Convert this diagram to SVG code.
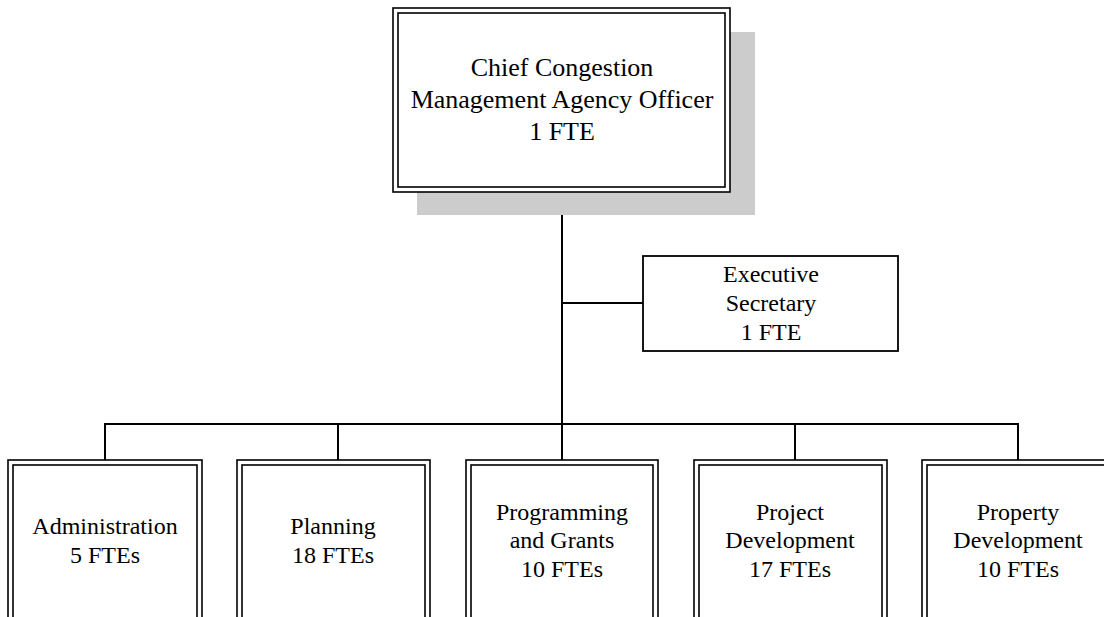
<svg xmlns="http://www.w3.org/2000/svg" width="1104" height="617" viewBox="0 0 1104 617" font-family="'Liberation Serif', Tinos, 'Times New Roman', Times, 'DejaVu Serif', serif">
  <style>
    .bg { fill: #ffffff; }
    .line { stroke: #000000; stroke-width: 2; fill: none; }
    .frame { fill: #ffffff; stroke: #000000; stroke-width: 1.6; }
    .inner { fill: none; stroke: #000000; stroke-width: 1.6; }
    .single { fill: #ffffff; stroke: #000000; stroke-width: 1.8; }
    .shadow { fill: #cccccc; }
    .t { fill: #000000; text-anchor: middle; }
    .big { font-size: 26px; }
    .lbl { font-size: 24px; }
  </style>
  <rect class="bg" x="0" y="0" width="1104" height="617"/>

  <!-- reporting lines -->
  <g id="connectors">
    <line class="line" x1="562" y1="192" x2="562" y2="424"/>
    <line class="line" x1="562" y1="303" x2="643" y2="303"/>
    <line class="line" x1="104" y1="424" x2="1019" y2="424"/>
    <line class="line" x1="105" y1="424" x2="105" y2="460"/>
    <line class="line" x1="338" y1="424" x2="338" y2="460"/>
    <line class="line" x1="562" y1="424" x2="562" y2="460"/>
    <line class="line" x1="795" y1="424" x2="795" y2="460"/>
    <line class="line" x1="1018" y1="424" x2="1018" y2="460"/>
  </g>

  <g id="chief">
    <rect class="shadow" x="417" y="32" width="338" height="183"/>
    <rect class="frame" x="393" y="8" width="337" height="184"/>
    <rect class="inner" x="398" y="13" width="327" height="174"/>
    <text class="t big" x="562" y="76" font-family="'Liberation Serif', serif">Chief Congestion</text>
    <text class="t big" x="562" y="108" font-family="'Liberation Serif', serif">Management Agency Officer</text>
    <text class="t big" x="562" y="140" font-family="'Liberation Serif', serif">1 FTE</text>
  </g>

  <g id="secretary" font-family="'Liberation Serif', serif">
    <rect class="single" x="643" y="256" width="255" height="95"/>
    <text class="t lbl" x="771" y="282">Executive</text>
    <text class="t lbl" x="771" y="311">Secretary</text>
    <text class="t lbl" x="771" y="340">1 FTE</text>
  </g>

  <g id="administration" font-family="'Liberation Serif', serif">
    <rect class="frame" x="8" y="460" width="194" height="170"/>
    <rect class="inner" x="13" y="465" width="184" height="170"/>
    <text class="t lbl" x="105" y="534">Administration</text>
    <text class="t lbl" x="105" y="563">5 FTEs</text>
  </g>

  <g id="planning" font-family="'Liberation Serif', serif">
    <rect class="frame" x="237" y="460" width="193" height="170"/>
    <rect class="inner" x="242" y="465" width="183" height="170"/>
    <text class="t lbl" x="333" y="534">Planning</text>
    <text class="t lbl" x="333" y="563">18 FTEs</text>
  </g>

  <g id="programming" font-family="'Liberation Serif', serif">
    <rect class="frame" x="466" y="460" width="192" height="170"/>
    <rect class="inner" x="471" y="465" width="182" height="170"/>
    <text class="t lbl" x="562" y="520">Programming</text>
    <text class="t lbl" x="562" y="548">and Grants</text>
    <text class="t lbl" x="562" y="577">10 FTEs</text>
  </g>

  <g id="project" font-family="'Liberation Serif', serif">
    <rect class="frame" x="694" y="460" width="193" height="170"/>
    <rect class="inner" x="699" y="465" width="183" height="170"/>
    <text class="t lbl" x="790" y="520">Project</text>
    <text class="t lbl" x="790" y="548">Development</text>
    <text class="t lbl" x="790" y="577">17 FTEs</text>
  </g>

  <g id="property" font-family="'Liberation Serif', serif">
    <rect class="frame" x="922" y="460" width="193" height="170"/>
    <rect class="inner" x="927" y="465" width="183" height="170"/>
    <text class="t lbl" x="1018" y="520">Property</text>
    <text class="t lbl" x="1018" y="548">Development</text>
    <text class="t lbl" x="1018" y="577">10 FTEs</text>
  </g>
</svg>
